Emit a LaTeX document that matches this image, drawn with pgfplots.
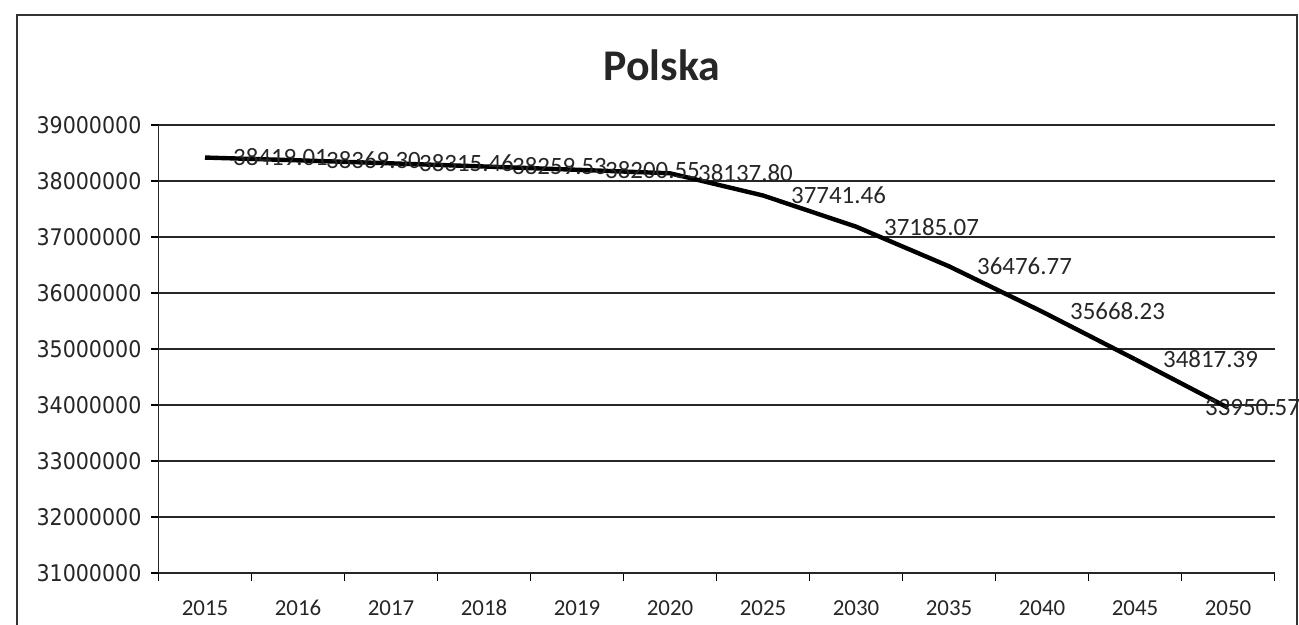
\documentclass[border=0pt]{standalone}
\usepackage{pgfplots}
\pgfplotsset{compat=1.18}
\usepackage{pgfplotstable}
\usepackage{fontspec}
\setmainfont{Carlito}
\newfontfamily\tickfont{DejaVu Sans Condensed}
\pgfplotstableread{
x y lab
0 38419010 38419.01
1 38369300 38369.30
2 38315460 38315.46
3 38259530 38259.53
4 38200550 38200.55
5 38137800 38137.80
6 37741460 37741.46
7 37185070 37185.07
8 36476770 36476.77
9 35668230 35668.23
10 34817390 34817.39
}\data
\pgfplotstableread{
x y lab
10 34817390 {}
11 33950570 33950.57
}\datalast
\begin{document}
\begin{tikzpicture}
\useasboundingbox (0,0) rectangle (649.5bp,312.5bp);
\draw[line width=0.8bp, black!80] (8.5bp,-2bp) -- (8.5bp,305bp) -- (648.5bp,305bp) -- (648.5bp,-2bp);
\node[font=\fontsize{22}{26}\selectfont\bfseries, text=black!85] at (331bp,280bp) {Polska};
\begin{axis}[
  at={(79.25bp,26bp)}, anchor=south west,
  scale only axis, width=558bp, height=224bp,
  xmin=-0.5, xmax=11.5, ymin=31000000, ymax=39000000,
  ytick={31000000,32000000,...,39000000},
  scaled y ticks=false,
  /pgf/number format/fixed,
  /pgf/number format/1000 sep={},
  /pgf/number format/precision=0,
  /pgf/number format/assume math mode=true,
  xtick={0,...,11},
  xticklabels={2015,2016,2017,2018,2019,2020,2025,2030,2035,2040,2045,2050},
  minor xtick={-0.5,0.5,...,11.5},
  major x tick style={draw=none},
  minor tick length=4bp,
  major tick length=4bp,
  tick align=outside,
  tick style={black, line width=0.8bp},
  ymajorgrids,
  grid style={black!85, line width=0.9bp},
  axis x line*=bottom, axis y line*=left,
  axis line style={black!85, line width=0.9bp},
  yticklabel style={font=\tickfont\fontsize{11.5}{13}\selectfont, text=black!85, xshift=-1bp},
  xticklabel style={font=\fontsize{11.5}{13}\selectfont, text=black!85, yshift=-6bp, text height=1.6ex, text depth=0.2ex},
  clip=false,
]
\addplot[black, line width=2.2bp, line join=round,
  nodes near coords, point meta=explicit symbolic,
  every node near coord/.append style={anchor=west, xshift=12bp, yshift=0bp, inner sep=1bp, font=\fontsize{12.5}{14}\selectfont, text=black!85}]
  table[x=x, y=y, meta=lab] {\data};
\addplot[black, line width=2.2bp, line join=round,
  nodes near coords, point meta=explicit symbolic,
  every node near coord/.append style={anchor=west, xshift=-13.5bp, yshift=0bp, inner sep=1bp, font=\fontsize{12.5}{14}\selectfont, text=black!85}]
  table[x=x, y=y, meta=lab] {\datalast};
\end{axis}
\end{tikzpicture}
\end{document}
